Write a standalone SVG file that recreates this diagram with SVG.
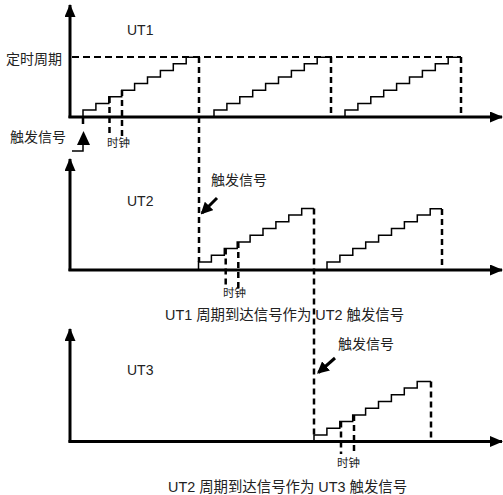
<svg xmlns="http://www.w3.org/2000/svg" width="503" height="495" viewBox="0 0 503 495">
<style>
text{font-family:"Liberation Sans","Noto Sans CJK SC",sans-serif;fill:#222}
.t14{font-size:14px}
.cap{font-size:14.4px}
.t12{font-size:11.5px}
.axis{stroke:#000;stroke-width:3;fill:none}
.dash{stroke:#000;stroke-width:2.5;stroke-dasharray:6 4;fill:none}
.hdash{stroke:#000;stroke-width:2;stroke-dasharray:7 4;fill:none}
.stair{stroke:#000;stroke-width:1.5;fill:none}
.ptr{stroke:#000;stroke-width:3;fill:none}
</style>
<defs>
<marker id="ah" markerUnits="userSpaceOnUse" markerWidth="13" markerHeight="11" refX="12" refY="5.5" orient="auto">
<path d="M0,0 L13,5.5 L0,11 z" fill="#000"/>
</marker>
<marker id="ph" markerUnits="userSpaceOnUse" markerWidth="12" markerHeight="12" refX="10" refY="6" orient="auto">
<path d="M0,0 L12,6 L0,12 z" fill="#000"/>
</marker>
</defs>

<g id="ut1">
<text class="t14" x="127" y="35">UT1</text>
<text class="t14" x="6" y="64">定时周期</text>
<text class="t14" x="10" y="142">触发信号</text>
<text class="t12" x="107" y="147">时钟</text>
<path class="stair" d="M83,117 V110 H95.9 V103.4 H108.8 V96.8 H121.7 V90.2 H134.6 V83.6 H147.5 V77 H160.4 V70.4 H173.3 V63.8 H186.2 V57.2 H199"/>
<path class="stair" d="M214,117 V110 H226.9 V103.4 H239.8 V96.8 H252.7 V90.2 H265.6 V83.6 H278.5 V77 H291.4 V70.4 H304.3 V63.8 H317.2 V57.2 H331"/>
<path class="stair" d="M345,117 V110 H357.9 V103.4 H370.8 V96.8 H383.7 V90.2 H396.6 V83.6 H409.5 V77 H422.4 V70.4 H435.3 V63.8 H448.2 V57.2 H461"/>
</g>

<g id="ut2">
<text class="t14" x="127" y="206">UT2</text>
<text class="t14" x="211" y="185">触发信号</text>
<text class="t12" x="223" y="297">时钟</text>
<path class="stair" d="M198.5,270 V262 H211.4 V255.3 H224.3 V248.6 H237.2 V241.9 H250.1 V235.2 H263 V228.5 H275.9 V221.8 H288.8 V215.1 H301.7 V208.4 H314"/>
<path class="stair" d="M327,270 V262 H339.9 V255.3 H352.8 V248.6 H365.7 V241.9 H378.6 V235.2 H391.5 V228.5 H404.4 V221.8 H417.3 V215.1 H430.2 V208.8 H442"/>
</g>

<g id="ut3">
<text class="t14" x="127" y="375">UT3</text>
<text class="t14" x="338" y="349">触发信号</text>
<text class="t12" x="337" y="467">时钟</text>
<path class="stair" d="M314,441.5 V435 H326.9 V428.3 H339.8 V421.6 H352.7 V414.9 H365.6 V408.2 H378.5 V401.5 H391.4 V394.8 H404.3 V388.1 H417.2 V381.4 H431"/>
</g>

<g id="captions">
<text class="cap" x="165" y="320">UT1 周期到达信号作为 UT2 触发信号</text>
<text class="cap" x="168" y="492">UT2 周期到达信号作为 UT3 触发信号</text>
</g>

<g id="connectors">
<line class="axis" x1="70" y1="118" x2="70" y2="5" marker-end="url(#ah)"/>
<line class="axis" x1="68.5" y1="117" x2="502" y2="117" marker-end="url(#ah)"/>
<line class="axis" x1="70" y1="271" x2="70" y2="159" marker-end="url(#ah)"/>
<line class="axis" x1="68.5" y1="270" x2="502" y2="270" marker-end="url(#ah)"/>
<line class="axis" x1="70" y1="442.5" x2="70" y2="329" marker-end="url(#ah)"/>
<line class="axis" x1="68.5" y1="441.5" x2="502" y2="441.5" marker-end="url(#ah)"/>
<path class="hdash" d="M72,57 H461"/>
<path class="dash" d="M199,57 V262"/>
<path class="dash" d="M331,57 V117"/>
<path class="dash" d="M461,57 V117"/>
<path class="dash" d="M83,118 V126"/>
<path d="M72,151 H83 V138" stroke="#000" stroke-width="1.5" fill="none"/>
<path d="M83.5,131 L90,145 L77,145 z" fill="#000"/>
<path class="dash" d="M109.5,97 V136"/>
<path class="dash" d="M122,90 V136"/>
<path class="dash" d="M314,208.4 V435"/>
<path class="dash" d="M442,209 V270"/>
<path class="dash" d="M225.7,248.6 V288"/>
<path class="dash" d="M238.3,241.9 V288"/>
<line class="ptr" x1="217" y1="198" x2="202" y2="213" marker-end="url(#ph)"/>
<path class="dash" d="M431,381.4 V441.5"/>
<path class="dash" d="M341,421.6 V454"/>
<path class="dash" d="M354,414.9 V454"/>
<line class="ptr" x1="335" y1="358" x2="318.5" y2="372.5" marker-end="url(#ph)"/>
</g>
</svg>
